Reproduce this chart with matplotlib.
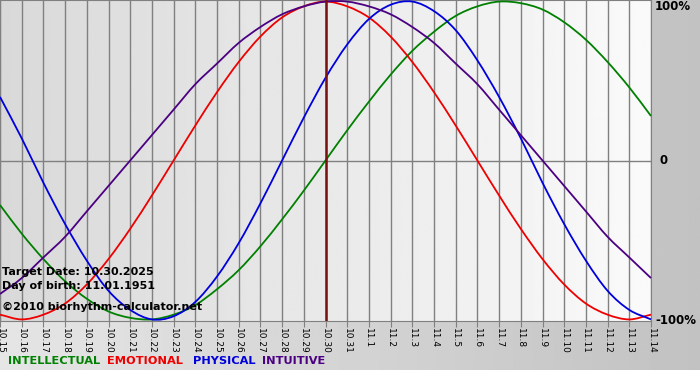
import matplotlib
matplotlib.use("Agg")
import matplotlib.pyplot as plt
from matplotlib.path import Path
from matplotlib.patches import PathPatch
import numpy as np

# days shown on the chart (10.15 .. 11.14)
dates = ["10.15", "10.16", "10.17", "10.18", "10.19", "10.20", "10.21", "10.22",
         "10.23", "10.24", "10.25", "10.26", "10.27", "10.28", "10.29", "10.30",
         "10.31", "11.1", "11.2", "11.3", "11.4", "11.5", "11.6", "11.7", "11.8",
         "11.9", "11.10", "11.11", "11.12", "11.13", "11.14"]
target_day = "10.30"

# daily values (-1 .. 1)
intellectual = [-0.28, -0.46, -0.62, -0.76, -0.87, -0.95, -0.99, -1.00, -0.97, -0.91,
                -0.81, -0.69, -0.54, -0.37, -0.19, 0.00, 0.19, 0.37, 0.54, 0.69,
                0.81, 0.91, 0.97, 1.00, 0.99, 0.95, 0.87, 0.76, 0.62, 0.46, 0.28]
emotional = [-0.97, -1.00, -0.97, -0.90, -0.78, -0.62, -0.43, -0.22, 0.00, 0.22,
             0.43, 0.62, 0.78, 0.90, 0.97, 1.00, 0.97, 0.90, 0.78, 0.62,
             0.43, 0.22, 0.00, -0.22, -0.43, -0.62, -0.78, -0.90, -0.97, -1.00, -0.97]
physical = [0.40, 0.14, -0.14, -0.40, -0.63, -0.82, -0.94, -1.00, -0.98, -0.89,
            -0.73, -0.52, -0.27, 0.00, 0.27, 0.52, 0.73, 0.89, 0.98, 1.00,
            0.94, 0.82, 0.63, 0.40, 0.14, -0.14, -0.40, -0.63, -0.82, -0.94, -1.00]
intuitive = [-0.84, -0.74, -0.61, -0.48, -0.32, -0.16, 0.00, 0.16, 0.32, 0.48,
             0.61, 0.74, 0.84, 0.92, 0.97, 1.00, 1.00, 0.97, 0.92, 0.84,
             0.74, 0.61, 0.48, 0.32, 0.16, 0.00, -0.16, -0.32, -0.48, -0.61, -0.74]

series = [("INTELLECTUAL", intellectual, "#008000"),
          ("EMOTIONAL", emotional, "#ee0000"),
          ("PHYSICAL", physical, "#0000dd"),
          ("INTUITIVE", intuitive, "#4b0082")]


def smooth_path(xs, ys):
    # catmull-rom style bezier through the daily points
    pts = np.column_stack([xs, ys]).astype(float)
    ext = np.vstack([2 * pts[0] - pts[1], pts, 2 * pts[-1] - pts[-2]])
    verts = [pts[0]]
    codes = [Path.MOVETO]
    for i in range(1, len(ext) - 2):
        p0, p1, p2, p3 = ext[i - 1], ext[i], ext[i + 1], ext[i + 2]
        verts += [p1 + (p2 - p0) / 6, p2 - (p3 - p1) / 6, p2]
        codes += [Path.CURVE4] * 3
    return Path(verts, codes)


W, H = 700, 380
fig = plt.figure(figsize=(W / 100, H / 100), dpi=100)
fig.patch.set_facecolor("white")

# gray gradient frame behind the chart
bg = fig.add_axes([0, 10 / H, 1, 1 - 10 / H])
bg.imshow(np.linspace(0.90, 0.76, 256).reshape(1, -1), cmap="gray", vmin=0, vmax=1,
          aspect="auto", extent=[0, 1, 0, 1])
bg.axis("off")

x = np.arange(len(dates))
ax = fig.add_axes([0, 59 / H, 651 / W, 321 / H])
ax.imshow(np.linspace(0.85, 0.98, 256).reshape(1, -1), cmap="gray", vmin=0, vmax=1,
          aspect="auto", extent=[0, len(dates) - 1, -1.01, 1.01], zorder=0)

for xi in x:
    ax.axvline(xi, color="#808080", lw=1, zorder=1)
ax.axhline(0, color="#808080", lw=1, zorder=1)

for name, vals, col in series:
    ax.add_patch(PathPatch(smooth_path(x, vals), facecolor="none", edgecolor=col,
                           lw=1.3, zorder=3, clip_on=False))

ax.axvline(dates.index(target_day), color="#7a1010", lw=1.8, zorder=4)

ax.set_xlim(0, len(dates) - 1)
ax.set_ylim(-1.01, 1.01)
ax.set_yticks([])
ax.set_xticks(x)
ax.set_xticklabels(dates, rotation=270, fontsize=6.5, family="DejaVu Sans")
ax.tick_params(axis="x", length=4, color="#808080", pad=1)
for s in ax.spines.values():
    s.set_color("#808080")


def px(xp, yp):
    return xp / W, 1 - yp / H


fig.text(*px(655, 6), "100%", fontsize=8.5, weight="bold", va="center", ha="left")
fig.text(*px(660, 161), "0", fontsize=8.5, weight="bold", va="center", ha="left")
fig.text(*px(655, 321), "-100%", fontsize=8.5, weight="bold", va="center", ha="left")

fig.text(*px(2, 272), "Target Date: 10.30.2025", fontsize=8, weight="bold", va="center")
fig.text(*px(2, 286), "Day of birth: 11.01.1951", fontsize=8, weight="bold", va="center")
fig.text(*px(2, 307), "\u00a92010 biorhythm-calculator.net", fontsize=8, weight="bold", va="center")

xpos = [8, 107, 193, 262]
for (name, vals, col), xp in zip(series, xpos):
    fig.text(*px(xp, 361), name, fontsize=8.2, weight="bold", color=col, va="center")

fig.savefig("out.png", dpi=100)
